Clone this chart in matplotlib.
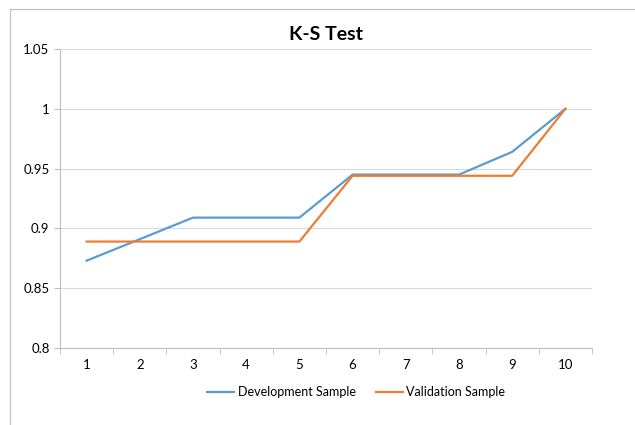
import numpy as np
import matplotlib
matplotlib.use('Agg')
import matplotlib.pyplot as plt
from matplotlib.ticker import FuncFormatter, MultipleLocator
from matplotlib.lines import Line2D

### K-S Test: development vs validation sample ###

deciles = [1, 2, 3, 4, 5, 6, 7, 8, 9, 10]
dev_sample = [0.873, 0.891, 0.909, 0.909, 0.909, 0.945, 0.945, 0.945, 0.964, 1.0]
val_sample = [0.889, 0.889, 0.889, 0.889, 0.889, 0.944, 0.944, 0.944, 0.944, 1.0]
series_names = ['Development Sample', 'Validation Sample']

plt.rcParams['font.family'] = ['Lato', 'DejaVu Sans']

fig = plt.figure(figsize=(6.35, 4.25), dpi=100)
ax = fig.add_axes([60/635, 77/425, 532/635, 299/425])

# chart area border (top and left visible)
fig.add_artist(Line2D([10/635, 1], [1 - 9/425, 1 - 9/425], color='#BFBFBF', lw=0.8))
fig.add_artist(Line2D([10/635, 10/635], [0, 1 - 9/425], color='#BFBFBF', lw=0.8))

x = np.arange(len(deciles))
ax.plot(x, dev_sample, color='#5B9BD5', lw=1.6, label=series_names[0])
ax.plot(x, val_sample, color='#ED7D31', lw=1.6, label=series_names[1])

ax.set_xlim(-0.5, len(deciles) - 0.5)
ax.set_ylim(0.8, 1.05)
ax.yaxis.set_major_locator(MultipleLocator(0.05))
ax.yaxis.set_major_formatter(FuncFormatter(lambda v, p: '%g' % round(v, 2)))
ax.set_xticks(x)
ax.set_xticklabels([str(d) for d in deciles])
ax.set_xticks(np.arange(len(deciles) + 1) - 0.5, minor=True)

ax.grid(axis='y', color='#D9D9D9', lw=0.8)
ax.set_axisbelow(True)
for s in ['top', 'right']:
    ax.spines[s].set_visible(False)
ax.spines['left'].set_color('#BFBFBF')
ax.spines['bottom'].set_color('#BFBFBF')
ax.tick_params(axis='x', which='major', length=0, labelsize=9.5, pad=8)
ax.tick_params(axis='x', which='minor', length=4, color='#BFBFBF')
ax.tick_params(axis='y', length=4, color='#BFBFBF', labelsize=9.5)

fig.text(326/635, 1 - 35/425, 'K-S Test', ha='center', va='center',
         fontsize=14, fontweight='bold')

fig.legend(loc='center', bbox_to_anchor=(356/635, 1 - 392/425), ncol=2,
           frameon=False, fontsize=9, handlelength=2.2, columnspacing=1.6,
           handletextpad=0.25)

fig.savefig('out.png', dpi=100)
